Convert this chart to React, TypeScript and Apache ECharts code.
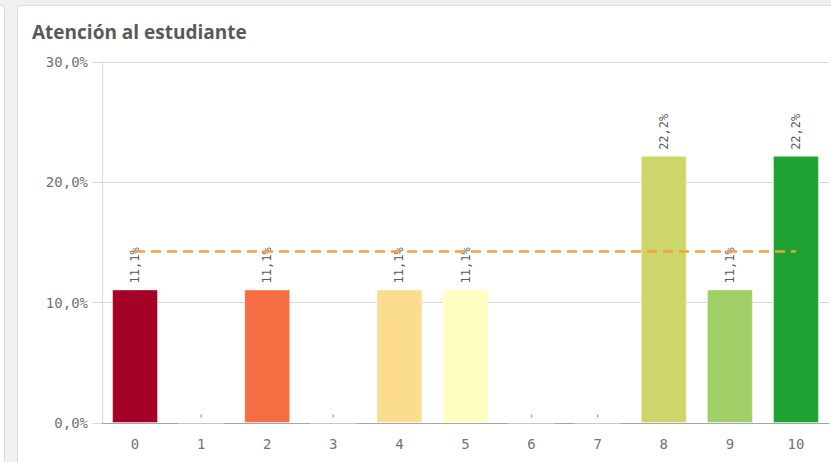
import React, { useEffect, useRef } from "react";
import * as echarts from "echarts";

const categories = ["0", "1", "2", "3", "4", "5", "6", "7", "8", "9", "10"];
const values = [11.1, 0, 11.1, 0, 11.1, 11.1, 0, 0, 22.2, 11.1, 22.2];
const barColors = [
  "#a50026", "#bbbbbb", "#f46d43", "#bbbbbb", "#fcdd8f", "#ffffc4",
  "#bbbbbb", "#bbbbbb", "#cdd66a", "#a0cf67", "#1ea332",
];
const yTicks = [0, 10, 20, 30];
const title = "Atención al estudiante";

const fmt = (v: number) => v.toFixed(1).replace(".", ",") + "%";

export default function App() {
  const ref = useRef<HTMLDivElement>(null);
  useEffect(() => {
    if (!ref.current) return;
    const chart = echarts.init(ref.current, null, { renderer: "svg" });
    const nonZero = values.filter((v) => v > 0);
    const avg = nonZero.reduce((a, b) => a + b, 0) / nonZero.length;
    const mono = "DejaVu Sans Mono";
    chart.setOption({
      animation: false,
      title: {
        text: title,
        left: 27,
        top: 17,
        textStyle: {
          fontFamily: "Open Sans",
          fontWeight: "bold",
          fontSize: 19,
          color: "#595959",
        },
      },
      grid: { left: 102, right: 2, top: 62, bottom: 39, containLabel: false },
      xAxis: {
        type: "category",
        data: categories,
        axisLine: { show: true, lineStyle: { color: "#a6a6a6", width: 1 } },
        axisTick: { show: false },
        axisLabel: {
          margin: 14,
          fontFamily: mono,
          fontSize: 14,
          color: "#737373",
        },
      },
      yAxis: {
        type: "value",
        min: yTicks[0],
        max: yTicks[yTicks.length - 1],
        interval: 10,
        axisLine: { show: true, lineStyle: { color: "#d9d9d9" } },
        axisTick: { show: true, length: 10, lineStyle: { color: "#d9d9d9" } },
        splitLine: { show: true, lineStyle: { color: "#d9d9d9" } },
        axisLabel: {
          margin: 14,
          fontFamily: mono,
          fontSize: 14,
          color: "#737373",
          formatter: (v: number) => fmt(v),
        },
      },
      series: [
        {
          type: "bar",
          barWidth: 46,
          data: values.map((v, i) => ({
            value: v,
            itemStyle: {
              color: barColors[i],
              borderColor: "rgba(255,255,255,0.45)",
              borderWidth: 1,
            },
            label: { show: v > 0 },
          })),
          label: {
            show: true,
            position: "top",
            rotate: 90,
            align: "left",
            verticalAlign: "middle",
            distance: 6,
            fontFamily: mono,
            fontSize: 12,
            color: "#595959",
            formatter: (p: any) => fmt(p.value),
          },
          markLine: {
            silent: true,
            symbol: "none",
            label: { show: false },
            lineStyle: {
              color: "#f5a03c",
              width: 2.5,
              type: [10, 6],
            },
            data: [
              [
                { coord: [0, avg] },
                { coord: [categories.length - 1, avg] },
              ],
            ],
          },
        },
        {
          type: "scatter",
          symbol: "rect",
          symbolSize: [1.5, 3],
          symbolOffset: [0, -7],
          itemStyle: { color: "#999999" },
          data: values
            .map((v, i) => (v === 0 ? [i, 0] : null))
            .filter((d) => d !== null),
        },
      ],
    });
    return () => chart.dispose();
  }, []);

  return (
    <div
      style={{
        position: "fixed",
        left: 0,
        top: 0,
        width: 831,
        height: 462,
        background: "#f0f0f0",
        overflow: "hidden",
      }}
    >
      <div
        style={{
          position: "absolute",
          left: -10,
          top: 5,
          width: 13,
          height: 500,
          background: "#ffffff",
          border: "1px solid #dcdcdc",
          borderRadius: 4,
        }}
      />
      <div
        style={{
          position: "absolute",
          left: 17,
          top: 5,
          width: 900,
          height: 500,
          background: "#ffffff",
          border: "1px solid #dcdcdc",
          borderRadius: 4,
        }}
      />
      <div
        ref={ref}
        style={{ position: "absolute", left: 0, top: 0, width: 831, height: 462 }}
      />
    </div>
  );
}
